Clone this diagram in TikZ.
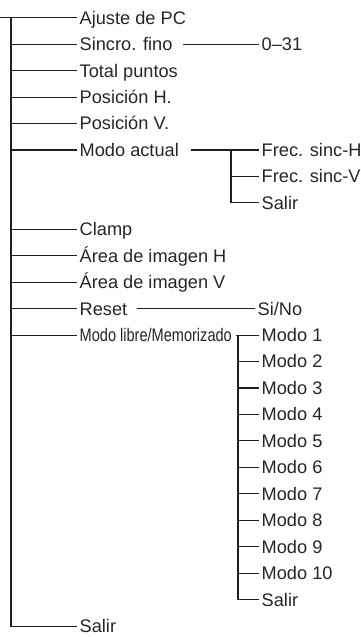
\documentclass[tikz,border=0pt]{standalone}
\usepackage{fontspec}
\setmainfont{Liberation Sans}
\begin{document}
\begin{tikzpicture}[x=1pt,y=-1pt,
  every node/.style={font=\fontsize{18.2}{21}\selectfont, text=black!85, inner xsep=2.5pt, inner ysep=0pt, text height=12.8pt, text depth=0pt, anchor=west},
  ln/.style={line width=1.1pt, draw=black!88}]
\useasboundingbox (0,0) rectangle (361,637);
% main items
\node (ajuste)  at (77,17.7)   {Ajuste de PC};
\node (sincro)  at (77,44.15)  {Sincro. fino};
\node (total)   at (77,70.6)   {Total puntos};
\node (posh)    at (77,97.05)  {Posición H.};
\node (posv)    at (77,123.5)  {Posición V.};
\node (modoact) at (77,149.95) {Modo actual};
\node (clamp)   at (77,229.3)  {Clamp};
\node (areah)   at (77,255.75) {Área de imagen H};
\node (areav)   at (77,282.2)  {Área de imagen V};
\node (reset)   at (77,308.65) {Reset};
\node (libre)   at (77,335.1)  {\scalebox{0.8}[1]{Modo libre/Memorizado}};
\node (salir)   at (77,626.05) {Salir};
% sub items
\node (r031)  at (259,44.15)  {0–31};
\node (frech) at (259,149.95) {Frec. sinc-H};
\node (frecv) at (259,176.4)  {Frec. sinc-V};
\node (salira) at (259,202.85) {Salir};
\node (sino)  at (255,308.65) {Si/No};
\node (m1)  at (259,335.1)  {Modo 1};
\node (m2)  at (259,361.55) {Modo 2};
\node (m3)  at (259,388.0)  {Modo 3};
\node (m4)  at (259,414.45) {Modo 4};
\node (m5)  at (259,440.9)  {Modo 5};
\node (m6)  at (259,467.35) {Modo 6};
\node (m7)  at (259,493.8)  {Modo 7};
\node (m8)  at (259,520.25) {Modo 8};
\node (m9)  at (259,546.7)  {Modo 9};
\node (m10) at (259,573.15) {Modo 10};
\node (salirb) at (259,599.6) {Salir};
% main trunk
\coordinate (top) at (0,17.7);
\coordinate (vtop) at (11,17.7);
\draw[ln] (top) -- (ajuste.west);
\draw[ln] (vtop) |- (salir.west);
\foreach \n in {sincro,total,posh,posv,modoact,clamp,areah,areav,reset,libre}
  \draw[ln] (vtop |- \n.west) -- (\n.west);
% Sincro fino
\draw[ln] ([xshift=8pt]sincro.east) -- (r031.west);
% Modo actual
\coordinate (va) at (231,149.95);
\draw[ln] ([xshift=9pt]modoact.east) -- (frech.west);
\draw[ln] (va) |- (salira.west);
\draw[ln] (va |- frecv.west) -- (frecv.west);
% Reset
\draw[ln] ([xshift=7pt]reset.east) -- (sino.west);
% Modo libre
\coordinate (vb) at (238,335.1);
\draw[ln] ([xshift=1pt]libre.east) -- (m1.west);
\draw[ln] (vb) |- (salirb.west);
\foreach \n in {m2,m3,m4,m5,m6,m7,m8,m9,m10}
  \draw[ln] (vb |- \n.west) -- (\n.west);
\end{tikzpicture}
\end{document}
